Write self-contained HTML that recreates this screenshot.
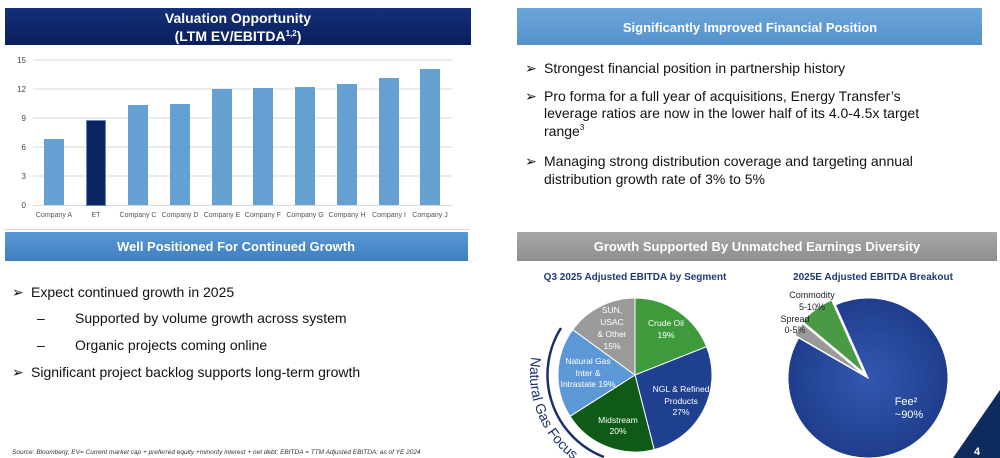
<!DOCTYPE html>
<html><head><meta charset="utf-8"><style>
html,body{margin:0;padding:0;background:#fff;}
svg{display:block;font-family:"Liberation Sans",Arial,sans-serif;}
</style></head><body>
<svg width="1000" height="458" viewBox="0 0 1000 458" xmlns="http://www.w3.org/2000/svg">
<defs>
<linearGradient id="nav" x1="0" y1="0" x2="0" y2="1"><stop offset="0" stop-color="#14307a"/><stop offset="1" stop-color="#0a1f5c"/></linearGradient>
<linearGradient id="lb" x1="0" y1="0" x2="0" y2="1"><stop offset="0" stop-color="#5a97d3"/><stop offset="1" stop-color="#3f7fc1"/></linearGradient>
<linearGradient id="lb2" x1="0" y1="0" x2="0" y2="1"><stop offset="0" stop-color="#6ba5d8"/><stop offset="1" stop-color="#5592cc"/></linearGradient>
<linearGradient id="gr" x1="0" y1="0" x2="0" y2="1"><stop offset="0" stop-color="#a8a8a8"/><stop offset="1" stop-color="#8e8e8e"/></linearGradient>
<radialGradient id="fee" cx="0.5" cy="0.5" r="0.5"><stop offset="0" stop-color="#3358b0"/><stop offset="1" stop-color="#1f3d8c"/></radialGradient>
<path id="arcT" d="M531.6,356.8 A105,105 0 0,0 695,461" fill="none"/>
</defs>
<rect x="5" y="8" width="466" height="37" fill="url(#nav)"/>
<text x="238" y="23" font-size="14" font-weight="bold" fill="#fff" text-anchor="middle">Valuation Opportunity</text>
<text x="238" y="41" font-size="14" font-weight="bold" fill="#fff" text-anchor="middle">(LTM EV/EBITDA<tspan font-size="8" dy="-5">1,2</tspan><tspan dy="5">)</tspan></text>
<g stroke="#d9d9d9" stroke-width="1">
<line x1="33" y1="60" x2="452" y2="60"/><line x1="33" y1="89" x2="452" y2="89"/><line x1="33" y1="118" x2="452" y2="118"/><line x1="33" y1="147" x2="452" y2="147"/><line x1="33" y1="176" x2="452" y2="176"/><line x1="33" y1="205.5" x2="452" y2="205.5"/>
<line x1="4" y1="229.5" x2="470" y2="229.5"/>
</g>
<g font-size="8" fill="#444" text-anchor="end">
<text x="26" y="63">15</text><text x="26" y="92">12</text><text x="26" y="121">9</text><text x="26" y="150">6</text><text x="26" y="179">3</text><text x="26" y="208">0</text>
</g>
<g fill="#64a0d1">
<rect x="44" y="139" width="20" height="66"/>
<rect x="128" y="105" width="20" height="100"/>
<rect x="170" y="104" width="20" height="101"/>
<rect x="212" y="89" width="20" height="116"/>
<rect x="253" y="88" width="20" height="117"/>
<rect x="295" y="87" width="20" height="118"/>
<rect x="337" y="84" width="20" height="121"/>
<rect x="379" y="78" width="20" height="127"/>
<rect x="420" y="69" width="20" height="136"/>
</g>
<rect x="86.5" y="120.5" width="19" height="85" fill="#0a2561" stroke="#5b8fc6" stroke-width="1"/>
<g font-size="7" fill="#555" text-anchor="middle">
<text x="54" y="217">Company A</text><text x="96" y="217">ET</text><text x="138" y="217">Company C</text><text x="180" y="217">Company D</text><text x="222" y="217">Company E</text><text x="263" y="217">Company F</text><text x="305" y="217">Company G</text><text x="347" y="217">Company H</text><text x="389" y="217">Company I</text><text x="430" y="217">Company J</text>
</g>
<rect x="5" y="232" width="463" height="29" fill="url(#lb)"/>
<text x="236" y="251" font-size="13" font-weight="bold" fill="#fff" text-anchor="middle">Well Positioned For Continued Growth</text>
<g font-size="14" fill="#111">
<text x="12" y="297" font-size="14">➢</text><text x="31" y="297">Expect continued growth in 2025</text>
<text x="37" y="323">–</text><text x="75" y="323">Supported by volume growth across system</text>
<text x="37" y="350">–</text><text x="75" y="350">Organic projects coming online</text>
<text x="12" y="377" font-size="14">➢</text><text x="31" y="377">Significant project backlog supports long-term growth</text>
</g>
<text x="12" y="454" font-size="6.5" font-style="italic" fill="#333">Source: Bloomberg; EV= Current market cap + preferred equity +minority interest + net debt; EBITDA = TTM Adjusted EBITDA; as of YE 2024</text>
<rect x="517" y="8" width="465" height="37" fill="url(#lb2)"/>
<text x="750" y="32" font-size="13" font-weight="bold" fill="#fff" text-anchor="middle">Significantly Improved Financial Position</text>
<g font-size="14" fill="#111">
<text x="525" y="73" font-size="14">➢</text><text x="544" y="73">Strongest financial position in partnership history</text>
<text x="525" y="101" font-size="14">➢</text><text x="544" y="101">Pro forma for a full year of acquisitions, Energy Transfer’s</text>
<text x="544" y="118">leverage ratios are now in the lower half of its 4.0-4.5x target</text>
<text x="544" y="136">range<tspan font-size="8" dy="-6">3</tspan></text>
<text x="525" y="166" font-size="14">➢</text><text x="544" y="166">Managing strong distribution coverage and targeting annual</text>
<text x="544" y="184">distribution growth rate of 3% to 5%</text>
</g>
<rect x="517" y="232" width="480" height="29" fill="url(#gr)"/>
<text x="757" y="251" font-size="13" font-weight="bold" fill="#fff" text-anchor="middle">Growth Supported By Unmatched Earnings Diversity</text>
<text x="635" y="280" font-size="10" font-weight="bold" fill="#1f3a7a" text-anchor="middle">Q3 2025 Adjusted EBITDA by Segment</text>
<text x="873" y="280" font-size="10" font-weight="bold" fill="#1f3a7a" text-anchor="middle">2025E Adjusted EBITDA Breakout</text>
<g stroke="#fff" stroke-width="1">
<path d="M635,375 L635,298 A77,77 0 0,1 706.6,346.7 Z" fill="#3e9a3a"/>
<path d="M635,375 L706.6,346.7 A77,77 0 0,1 654.2,449.6 Z" fill="#1f3f8f"/>
<path d="M635,375 L654.2,449.6 A77,77 0 0,1 570,416.3 Z" fill="#0f5a17"/>
<path d="M635,375 L570,416.3 A77,77 0 0,1 572.7,329.7 Z" fill="#5c98d6"/>
<path d="M635,375 L572.7,329.7 A77,77 0 0,1 635,298 Z" fill="#9a9a9a"/>
</g>
<g font-size="8.5" fill="#fff" text-anchor="middle">
<text x="666" y="326">Crude Oil</text><text x="666" y="338">19%</text>
<text x="681" y="392">NGL &amp; Refined</text><text x="681" y="404">Products</text><text x="681" y="415">27%</text>
<text x="618" y="423">Midstream</text><text x="618" y="434">20%</text>
<text x="588" y="364">Natural Gas</text><text x="588" y="376">Inter &amp;</text><text x="588" y="387">Intrastate 19%</text>
<text x="612" y="313">SUN,</text><text x="612" y="325">USAC</text><text x="612" y="337">&amp; Other</text><text x="612" y="349">15%</text>
</g>
<path d="M561,328 A88,88 0 0,0 604,457" fill="none" stroke="#1a2f6b" stroke-width="2.5"/>
<text font-size="14" fill="#1a2f6b"><textPath href="#arcT">Natural Gas Focus</textPath></text>
<path d="M868,378 L835.5,304.9 A80,80 0 1,1 798.7,338 Z" fill="url(#fee)" stroke="#fff" stroke-width="1"/>
<path d="M864,373 L831.5,299.9 A80,80 0 0,0 802.7,321.6 Z" fill="#4a9a45" stroke="#fff" stroke-width="1"/>
<path d="M864,375 L802.7,323.6 A80,80 0 0,0 794.7,335 Z" fill="#9a9a9a" stroke="#fff" stroke-width="1"/>
<g font-size="9" fill="#222" text-anchor="middle">
<text x="812" y="298">Commodity</text><text x="812" y="310">5-10%</text>
<text x="795" y="322">Spread</text><text x="795" y="333">0-5%</text>
</g>
<text x="906" y="405" font-size="11" fill="#fff" text-anchor="middle">Fee²</text>
<text x="909" y="418" font-size="11" fill="#fff" text-anchor="middle">~90%</text>
<polygon points="953,458 1000,390 1000,458" fill="#0f2a5e"/>
<text x="977" y="455" font-size="11" font-weight="bold" fill="#fff" text-anchor="middle">4</text>
</svg>
</body></html>
